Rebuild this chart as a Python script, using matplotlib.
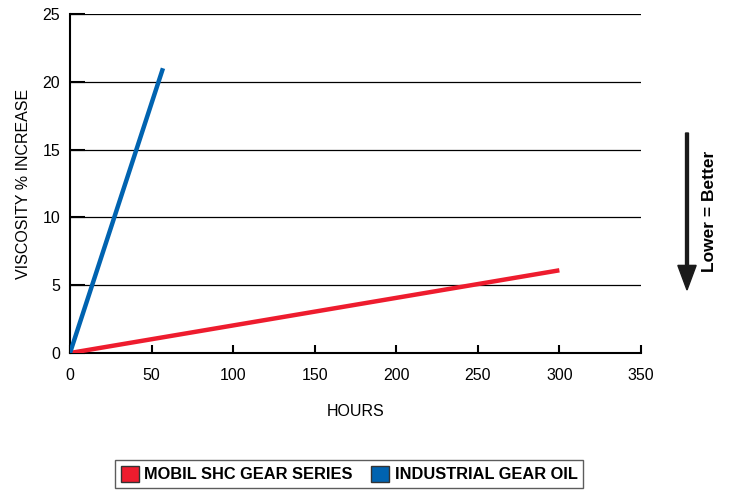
import matplotlib
matplotlib.use("Agg")
import matplotlib.pyplot as plt
from matplotlib.patches import Patch

plt.rcParams['font.family'] = ['Liberation Sans', 'DejaVu Sans']

# data
mobil_hours = [0, 300]
mobil_visc = [0, 6.1]
industrial_hours = [0, 57]
industrial_visc = [0, 21]

x_ticks = [0, 50, 100, 150, 200, 250, 300, 350]
y_ticks = [0, 5, 10, 15, 20, 25]

red = '#ee1c2e'
blue = '#0063b0'

fig = plt.figure(figsize=(7.32, 4.92), dpi=100)
ax = fig.add_axes([0.0956, 0.2825, 0.780, 0.689])

for y in y_ticks[1:]:
    ax.axhline(y, color='black', lw=0.9, zorder=1)

ax.plot(mobil_hours, mobil_visc, color=red, lw=3.2, solid_capstyle='butt', zorder=3)
ax.plot(industrial_hours, industrial_visc, color=blue, lw=3.2, solid_capstyle='butt', zorder=3)

ax.set_xlim(0, 350)
ax.set_ylim(0, 25)
ax.set_xticks(x_ticks)
ax.set_yticks(y_ticks)
ax.tick_params(axis='x', direction='in', length=6, width=1.5, labelsize=11.5, pad=11)
ax.tick_params(axis='y', direction='in', length=11, width=1.5, labelsize=11.5, pad=7)
ax.spines['top'].set_visible(False)
ax.spines['right'].set_visible(False)
ax.spines['left'].set_linewidth(1.5)
ax.spines['bottom'].set_linewidth(1.5)

ax.set_xlabel('HOURS', fontsize=11.5, labelpad=15)
ax.set_ylabel('VISCOSITY % INCREASE', fontsize=11.5, labelpad=8)

# lower = better arrow
fig.patches.append(matplotlib.patches.FancyArrow(
    687 / 732, 1 - 133 / 492, 0, -(290 - 133) / 492,
    width=0.004, head_width=0.025, head_length=0.05,
    length_includes_head=True, color='#1a1a1a', transform=fig.transFigure))
fig.text(710 / 732, 1 - 211 / 492, 'Lower = Better', rotation=90,
         ha='center', va='center', fontsize=12.5, fontweight='bold')

handles = [Patch(facecolor=red, edgecolor='#333333', label='MOBIL SHC GEAR SERIES'),
           Patch(facecolor=blue, edgecolor='#333333', label='INDUSTRIAL GEAR OIL')]
leg = fig.legend(handles=handles, loc='center', bbox_to_anchor=(349 / 732, 1 - 474 / 492),
                 ncol=2, fontsize=11.8, frameon=True, fancybox=False,
                 handlelength=1.1, handleheight=1.1, handletextpad=0.35,
                 columnspacing=1.1, borderpad=0.35)
leg.get_frame().set_edgecolor('#333333')
leg.get_frame().set_linewidth(1.0)
for t in leg.get_texts():
    t.set_fontweight('bold')

fig.savefig('out.png', dpi=100)
